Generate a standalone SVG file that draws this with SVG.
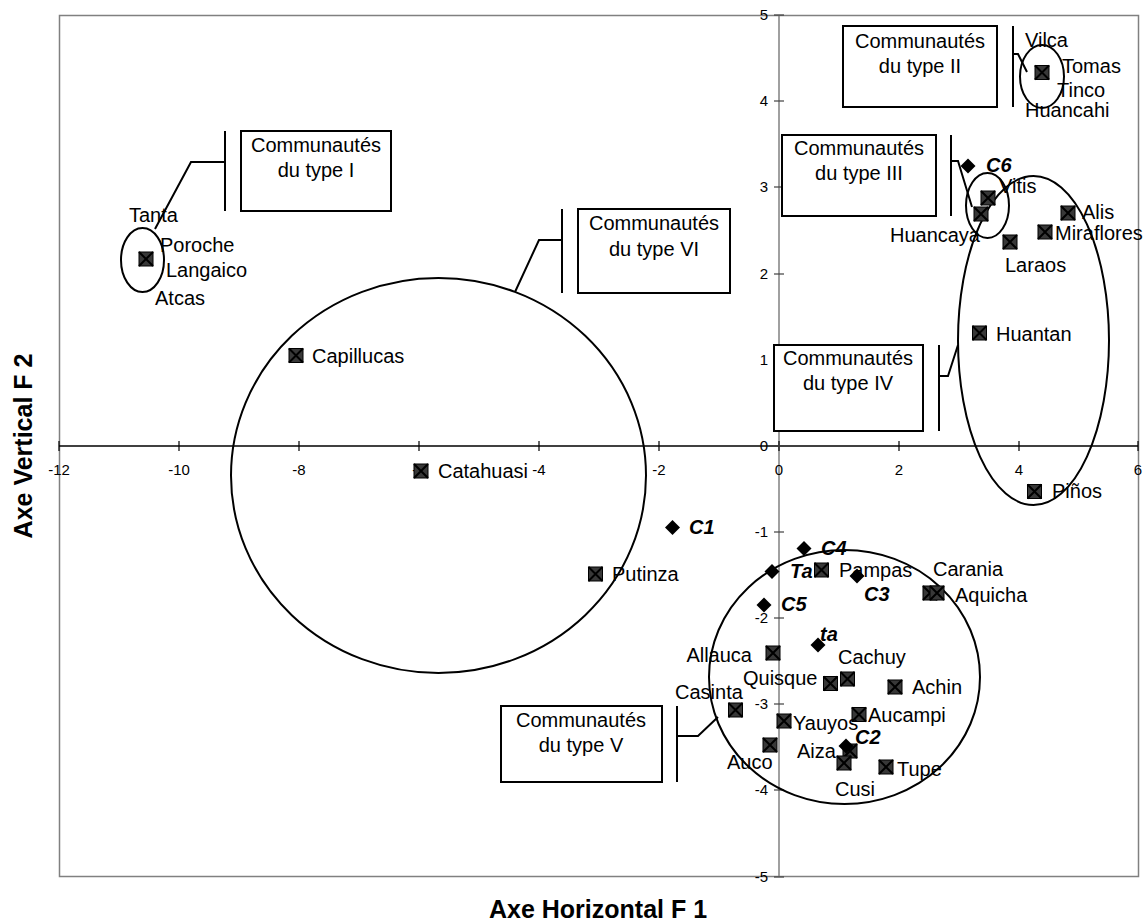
<svg xmlns="http://www.w3.org/2000/svg" xmlns:xlink="http://www.w3.org/1999/xlink" width="1148" height="923" viewBox="0 0 1148 923">
<style>
text{font-family:"Liberation Sans",Arial,sans-serif;fill:#000}
.lbl{font-size:20px}
.c{font-size:20px;font-weight:bold;font-style:italic}
.ty{font-size:15px;text-anchor:end}
.tx{font-size:15px;text-anchor:middle}
.ttl{font-size:25px;font-weight:bold;text-anchor:middle}
.box{fill:#fff;stroke:#000;stroke-width:2}
.bt{font-size:20px;text-anchor:middle}
.ell{fill:none;stroke:#000;stroke-width:2}
.ld{fill:none;stroke:#000;stroke-width:2}
.ax{stroke:#000;stroke-width:1.3}
.axg{stroke:#808080;stroke-width:1.5}
</style>
<defs>
<g id="sq"><rect x="-7" y="-7" width="14" height="14" fill="#383838" stroke="#000" stroke-width="1"/><path d="M-7,-7 L7,7 M7,-7 L-7,7" stroke="#000" stroke-width="2"/></g>
<path id="dm" d="M0,-7.5 L7.5,0 L0,7.5 L-7.5,0 Z" fill="#000"/>
</defs>
<rect x="0" y="0" width="1148" height="923" fill="#fff"/>
<g id="frame">
<rect x="59.5" y="15.5" width="1079" height="861" fill="none" stroke="#808080" stroke-width="1.5"/>
</g>
<g id="axes">
<line class="ax" x1="59" y1="446" x2="1138" y2="446"/>
<line class="axg" x1="779" y1="15" x2="779" y2="877"/>
<g stroke="#000" stroke-width="1.2">
<line x1="59" y1="441" x2="59" y2="451"/><line x1="179" y1="441" x2="179" y2="451"/><line x1="299" y1="441" x2="299" y2="451"/><line x1="419" y1="441" x2="419" y2="451"/><line x1="539" y1="441" x2="539" y2="451"/><line x1="659" y1="441" x2="659" y2="451"/><line x1="779" y1="441" x2="779" y2="451"/><line x1="899" y1="441" x2="899" y2="451"/><line x1="1019" y1="441" x2="1019" y2="451"/><line x1="1138" y1="441" x2="1138" y2="451"/>
</g>
<g stroke="#404040" stroke-width="1.2">
<line x1="774" y1="15" x2="784" y2="15"/><line x1="774" y1="101" x2="784" y2="101"/><line x1="774" y1="187" x2="784" y2="187"/><line x1="774" y1="274" x2="784" y2="274"/><line x1="774" y1="360" x2="784" y2="360"/><line x1="774" y1="446" x2="784" y2="446"/><line x1="774" y1="532" x2="784" y2="532"/><line x1="774" y1="618" x2="784" y2="618"/><line x1="774" y1="704" x2="784" y2="704"/><line x1="774" y1="790" x2="784" y2="790"/><line x1="774" y1="877" x2="784" y2="877"/>
</g>
<text class="tx" x="59" y="475">-12</text>
<text class="tx" x="179" y="475">-10</text>
<text class="tx" x="299" y="475">-8</text>
<text class="tx" x="419" y="475">-6</text>
<text class="tx" x="539" y="475">-4</text>
<text class="tx" x="659" y="475">-2</text>
<text class="tx" x="779" y="475">0</text>
<text class="tx" x="899" y="475">2</text>
<text class="tx" x="1019" y="475">4</text>
<text class="tx" x="1138" y="475">6</text>
<text class="ty" x="768" y="20">5</text>
<text class="ty" x="768" y="106">4</text>
<text class="ty" x="768" y="192">3</text>
<text class="ty" x="768" y="279">2</text>
<text class="ty" x="768" y="365">1</text>
<text class="ty" x="768" y="451">0</text>
<text class="ty" x="768" y="537">-1</text>
<text class="ty" x="768" y="623">-2</text>
<text class="ty" x="768" y="709">-3</text>
<text class="ty" x="768" y="795">-4</text>
<text class="ty" x="768" y="882">-5</text>
<text class="ttl" x="598" y="918">Axe Horizontal F 1</text>
<text class="ttl" x="32" y="446" transform="rotate(-90 32 446)">Axe Vertical F 2</text>
</g>
<g id="groups">
<ellipse class="ell" cx="142.5" cy="260" rx="21.5" ry="32"/>
<ellipse class="ell" cx="1042" cy="76.5" rx="22" ry="31.5"/>
<ellipse class="ell" cx="987.5" cy="205.5" rx="21.5" ry="32.5"/>
<ellipse class="ell" cx="1033.5" cy="340.5" rx="75.5" ry="164.5"/>
<ellipse class="ell" cx="438.5" cy="475.5" rx="207.5" ry="197.5"/>
<ellipse class="ell" cx="844.5" cy="677" rx="135.5" ry="127"/>
</g>
<g id="connectors">
<line class="ld" x1="225" y1="131" x2="225" y2="211"/><polyline class="ld" points="225,162 191,162 155,229"/>
<line class="ld" x1="562" y1="209" x2="562" y2="293"/><polyline class="ld" points="562,240 539,240 515,292"/>
<line class="ld" x1="1013" y1="26" x2="1013" y2="107"/><polyline class="ld" points="1013,54 1018,54 1027,72"/>
<line class="ld" x1="951" y1="135" x2="951" y2="216"/><polyline class="ld" points="951,161 958,161 972,207"/>
<line class="ld" x1="939" y1="345" x2="939" y2="431"/><polyline class="ld" points="939,376 948,376 958,345"/>
<line class="ld" x1="677" y1="706" x2="677" y2="782"/><polyline class="ld" points="677,736 698,736 718,717"/>
</g>
<g id="box-type-I"><rect class="box" x="241" y="131" width="150" height="80"/><text class="bt" x="316" y="152">Communautés</text><text class="bt" x="316" y="177">du type I</text></g>
<g id="box-type-VI"><rect class="box" x="578" y="209" width="152" height="84"/><text class="bt" x="654" y="230">Communautés</text><text class="bt" x="654" y="256">du type VI</text></g>
<g id="box-type-II"><rect class="box" x="843" y="26" width="154" height="81"/><text class="bt" x="920" y="48">Communautés</text><text class="bt" x="920" y="73">du type II</text></g>
<g id="box-type-III"><rect class="box" x="782" y="135" width="154" height="81"/><text class="bt" x="859" y="155">Communautés</text><text class="bt" x="859" y="180">du type III</text></g>
<g id="box-type-IV"><rect class="box" x="774" y="345" width="149" height="86"/><text class="bt" x="848" y="365">Communautés</text><text class="bt" x="848" y="390">du type IV</text></g>
<g id="box-type-V"><rect class="box" x="501" y="706" width="161" height="76"/><text class="bt" x="581" y="727">Communautés</text><text class="bt" x="581" y="752">du type V</text></g>
<g id="pt-type1"><use xlink:href="#sq" x="146" y="259"/><text class="lbl" x="129" y="222">Tanta</text><text class="lbl" x="160" y="252">Poroche</text><text class="lbl" x="166" y="277">Langaico</text><text class="lbl" x="155" y="305">Atcas</text></g>
<g id="pt-capillucas"><use xlink:href="#sq" x="296" y="355.5"/><text class="lbl" x="312" y="363">Capillucas</text></g>
<g id="pt-catahuasi"><use xlink:href="#sq" x="421" y="471"/><text class="lbl" x="438" y="478">Catahuasi</text></g>
<g id="pt-putinza"><use xlink:href="#sq" x="595.5" y="574"/><text class="lbl" x="612" y="581">Putinza</text></g>
<g id="pt-c1"><use xlink:href="#dm" x="672.5" y="527.5"/><text class="c" x="689" y="534">C1</text></g>
<g id="pt-type2"><use xlink:href="#sq" x="1042" y="72.5"/><text class="lbl" x="1025" y="47">Vilca</text><text class="lbl" x="1062" y="73">Tomas</text><text class="lbl" x="1057" y="97">Tinco</text><text class="lbl" x="1025" y="117">Huancahi</text></g>
<g id="pt-c6"><use xlink:href="#dm" x="968" y="166"/><text class="c" x="986" y="172">C6</text></g>
<g id="pt-vitis"><use xlink:href="#sq" x="988" y="198"/><text class="lbl" x="999" y="193">Vitis</text></g>
<g id="pt-huancaya"><use xlink:href="#sq" x="981" y="214"/><text class="lbl" x="980" y="242" text-anchor="end">Huancaya</text></g>
<g id="pt-laraos"><use xlink:href="#sq" x="1010" y="242"/><text class="lbl" x="1005" y="272">Laraos</text></g>
<g id="pt-alis"><use xlink:href="#sq" x="1068" y="213"/><text class="lbl" x="1082" y="219">Alis</text></g>
<g id="pt-miraflores"><use xlink:href="#sq" x="1045" y="232"/><text class="lbl" x="1055" y="240">Miraflores</text></g>
<g id="pt-huantan"><use xlink:href="#sq" x="979.5" y="333"/><text class="lbl" x="996" y="341">Huantan</text></g>
<g id="pt-pinos"><use xlink:href="#sq" x="1034.5" y="491.5"/><text class="lbl" x="1052" y="498">Piños</text></g>
<g id="pt-c4"><use xlink:href="#dm" x="804" y="548.5"/><text class="c" x="821" y="555">C4</text></g>
<g id="pt-ta"><use xlink:href="#dm" x="772" y="571.5"/><text class="c" x="790" y="578">Ta</text></g>
<g id="pt-pampas"><use xlink:href="#sq" x="821.5" y="570"/><text class="lbl" x="839" y="577">Pampas</text></g>
<g id="pt-c3"><use xlink:href="#dm" x="857" y="576"/><text class="c" x="864" y="601">C3</text></g>
<g id="pt-c5"><use xlink:href="#dm" x="764" y="605"/><text class="c" x="781" y="611">C5</text></g>
<g id="pt-carania"><use xlink:href="#sq" x="930" y="593"/><text class="lbl" x="933" y="576">Carania</text></g>
<g id="pt-aquicha"><use xlink:href="#sq" x="937" y="593"/><text class="lbl" x="955" y="602">Aquicha</text></g>
<g id="pt-ta2"><use xlink:href="#dm" x="818" y="645"/><text class="c" x="820" y="641">ta</text></g>
<g id="pt-allauca"><use xlink:href="#sq" x="773" y="653"/><text class="lbl" x="752" y="662" text-anchor="end">Allauca</text></g>
<g id="pt-cachuy"><use xlink:href="#sq" x="847.5" y="679"/><text class="lbl" x="838" y="664">Cachuy</text></g>
<g id="pt-quisque"><use xlink:href="#sq" x="830.5" y="683.5"/><text class="lbl" x="743" y="685">Quisque</text></g>
<g id="pt-achin"><use xlink:href="#sq" x="895" y="687"/><text class="lbl" x="912" y="694">Achin</text></g>
<g id="pt-casinta"><use xlink:href="#sq" x="735.5" y="710"/><text class="lbl" x="675" y="699">Casinta</text></g>
<g id="pt-aucampi"><use xlink:href="#sq" x="859" y="714.5"/><text class="lbl" x="868" y="722">Aucampi</text></g>
<g id="pt-yauyos"><use xlink:href="#sq" x="784" y="721"/><text class="lbl" x="793" y="730">Yauyos</text></g>
<g id="pt-auco"><use xlink:href="#sq" x="770" y="745"/><text class="lbl" x="727" y="769">Auco</text></g>
<g id="pt-aiza"><use xlink:href="#sq" x="850" y="751"/><text class="lbl" x="797" y="758">Aiza</text></g>
<g id="pt-c2"><use xlink:href="#dm" x="846" y="746"/><text class="c" x="855" y="744">C2</text></g>
<g id="pt-cusi"><use xlink:href="#sq" x="844" y="763"/><text class="lbl" x="835" y="796">Cusi</text></g>
<g id="pt-tupe"><use xlink:href="#sq" x="886" y="767"/><text class="lbl" x="897" y="776">Tupe</text></g>
</svg>
